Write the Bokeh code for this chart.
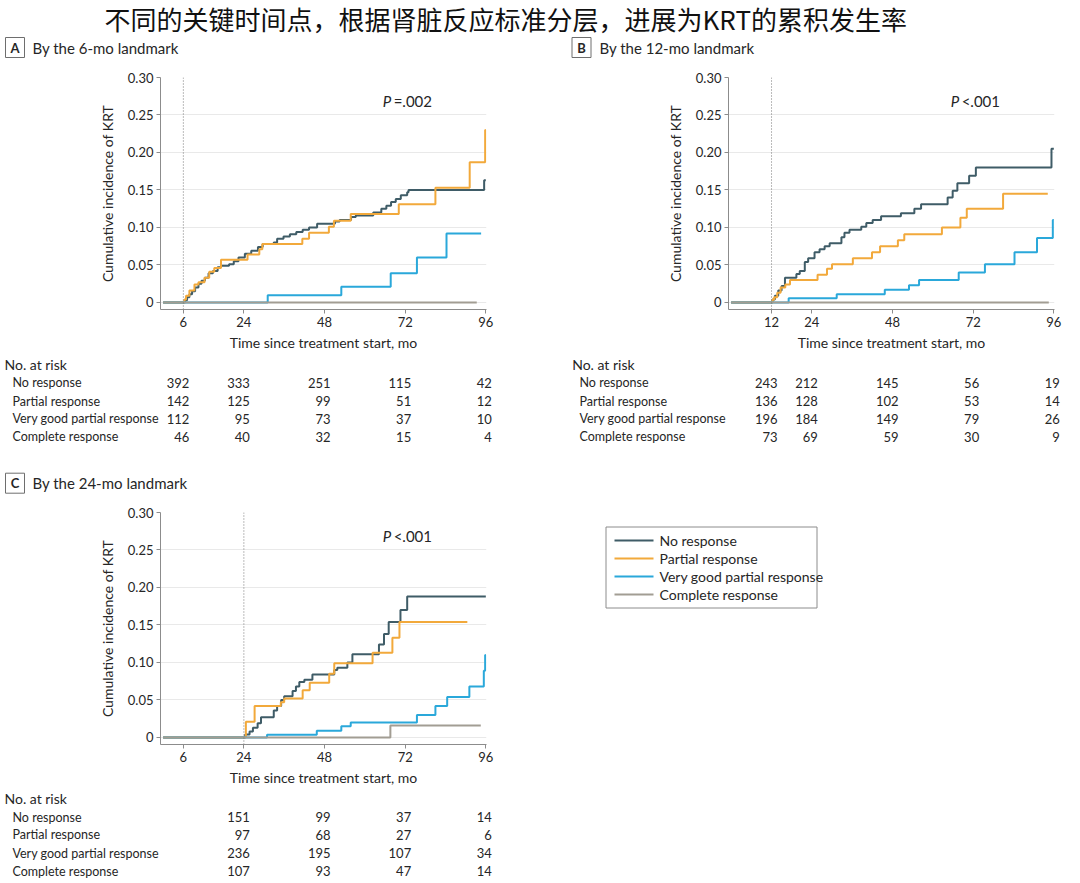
from bokeh.plotting import figure
from bokeh.layouts import column, row
from bokeh.models import Range1d, FixedTicker, NumeralTickFormatter, Span, Label
from bokeh.core.properties import value
from bokeh.embed import file_html
from bokeh.resources import INLINE

# ---------------- data ----------------
TITLE = "不同的关键时间点，根据肾脏反应标准分层，进展为KRT的累积发生率"
GROUPS = ["No response", "Partial response", "Very good partial response", "Complete response"]
COLORS = ["#3f5c67", "#f2a93b", "#2aa8da", "#a29d93"]

# Panel A (6-mo landmark)
A_no_t = [0, 6.5, 7.1, 7.8, 8.6, 9.5, 10.5, 11.4, 12.4, 13.5, 14.8, 16.2, 17.2, 19.6, 21.0, 22.4,
          24.3, 26.2, 28.2, 29.6, 32.9, 33.9, 35.8, 37.7, 39.6, 41.5, 43.4, 45.8, 51.1, 52.5, 55.9,
          57.3, 62.5, 64.9, 66.4, 67.8, 69.2, 70.7, 72.6, 73.0, 95.5, 96.0]
A_no_v = [0, 0.003, 0.007, 0.011, 0.015, 0.020, 0.025, 0.029, 0.033, 0.039, 0.042, 0.047, 0.049,
          0.051, 0.055, 0.060, 0.065, 0.069, 0.074, 0.078, 0.080, 0.085, 0.088, 0.091, 0.094, 0.097,
          0.100, 0.105, 0.108, 0.110, 0.114, 0.116, 0.120, 0.125, 0.129, 0.134, 0.138, 0.143, 0.147,
          0.150, 0.163, 0.163]
A_pr_t = [0, 6.3, 6.8, 7.8, 9.3, 10.5, 12.3, 13.7, 15.2, 17.2, 25.1, 28.6, 29.5, 41.4, 43.4, 49.3,
          50.8, 55.8, 70.1, 81.0, 91.2, 95.8, 96.0]
A_pr_v = [0, 0.004, 0.009, 0.016, 0.024, 0.027, 0.033, 0.041, 0.046, 0.057, 0.064, 0.071, 0.078,
          0.085, 0.093, 0.101, 0.109, 0.118, 0.131, 0.153, 0.187, 0.230, 0.230]
A_vg_t = [0, 31.1, 53.0, 67.7, 75.5, 84.3, 94.6]
A_vg_v = [0, 0.0095, 0.021, 0.039, 0.060, 0.092, 0.092]
A_cr_t = [0, 93.3]
A_cr_v = [0, 0]

# Panel B (12-mo landmark)
B_no_t = [0, 12.3, 13.0, 14.0, 15.0, 16.0, 19.4, 20.4, 21.9, 22.9, 24.8, 26.3, 27.8, 29.3, 32.8,
          33.7, 35.2, 38.7, 40.2, 42.1, 44.6, 50.5, 54.5, 56.5, 64.4, 65.9, 67.3, 70.8, 72.8, 95.3, 96.0]
B_no_v = [0, 0.004, 0.009, 0.016, 0.022, 0.033, 0.038, 0.042, 0.054, 0.059, 0.067, 0.071, 0.075,
          0.079, 0.087, 0.093, 0.097, 0.101, 0.106, 0.110, 0.115, 0.119, 0.125, 0.131, 0.140, 0.149,
          0.159, 0.169, 0.180, 0.205, 0.205]
B_pr_t = [0, 12.3, 12.8, 13.7, 14.7, 16.1, 17.5, 25.7, 28.5, 30.0, 36.2, 41.9, 44.3, 49.6, 51.5,
          62.7, 68.2, 70.1, 80.9, 94.2]
B_pr_v = [0, 0.004, 0.007, 0.013, 0.020, 0.024, 0.030, 0.037, 0.045, 0.051, 0.059, 0.067, 0.075,
          0.083, 0.091, 0.100, 0.113, 0.125, 0.145, 0.145]
B_vg_t = [0, 17.1, 31.4, 45.7, 52.9, 55.9, 67.7, 75.5, 84.3, 91.0, 95.7, 96.0]
B_vg_v = [0, 0.0055, 0.011, 0.017, 0.023, 0.030, 0.040, 0.051, 0.067, 0.086, 0.110, 0.110]
B_cr_t = [0, 94.5]
B_cr_v = [0, 0]

# Panel C (24-mo landmark)
C_no_t = [0, 24.4, 25.7, 26.7, 28.1, 29.1, 32.9, 33.9, 35.1, 36.0, 38.5, 39.5, 40.5, 42.0, 44.4,
          50.9, 51.8, 54.8, 56.3, 64.2, 65.7, 67.1, 70.6, 72.6, 96.0]
C_no_v = [0, 0.004, 0.008, 0.013, 0.019, 0.027, 0.036, 0.042, 0.050, 0.055, 0.062, 0.068, 0.074,
          0.077, 0.084, 0.090, 0.093, 0.100, 0.111, 0.124, 0.138, 0.154, 0.170, 0.188, 0.188]
C_pr_t = [0, 24.6, 27.2, 35.0, 36.0, 41.5, 43.6, 49.4, 50.9, 62.3, 68.2, 70.3, 90.5]
C_pr_v = [0, 0.021, 0.042, 0.047, 0.052, 0.063, 0.073, 0.085, 0.099, 0.113, 0.133, 0.154, 0.154]
C_vg_t = [0, 30.9, 45.7, 53.0, 55.8, 75.5, 81.0, 84.5, 91.1, 95.4, 95.8, 96.0]
C_vg_v = [0, 0.0036, 0.009, 0.015, 0.020, 0.030, 0.042, 0.054, 0.068, 0.089, 0.110, 0.110]
C_cr_t = [0, 67.6, 94.5]
C_cr_v = [0, 0.016, 0.016]

# x ticks / landmarks / P values
A_ticks = [6, 24, 48, 72, 96]
B_ticks = [12, 24, 48, 72, 96]
C_ticks = [6, 24, 48, 72, 96]
LANDMARKS = [6, 12, 24]
P_TEXTS = ["=.002", "<.001", "<.001"]
Y_TICKS = [0, 0.05, 0.10, 0.15, 0.20, 0.25, 0.30]

# numbers at risk
A_risk_times = [6, 24, 48, 72, 96]
A_risk_no = [392, 333, 251, 115, 42]
A_risk_pr = [142, 125, 99, 51, 12]
A_risk_vg = [112, 95, 73, 37, 10]
A_risk_cr = [46, 40, 32, 15, 4]
B_risk_times = [12, 24, 48, 72, 96]
B_risk_no = [243, 212, 145, 56, 19]
B_risk_pr = [136, 128, 102, 53, 14]
B_risk_vg = [196, 184, 149, 79, 26]
B_risk_cr = [73, 69, 59, 30, 9]
C_risk_times = [24, 48, 72, 96]
C_risk_no = [151, 99, 37, 14]
C_risk_pr = [97, 68, 27, 6]
C_risk_vg = [236, 195, 107, 34]
C_risk_cr = [107, 93, 47, 14]

# ---------------- style / layout ----------------
FONT = "Lato"
CJK_FONT = "Noto Sans CJK SC"
TEXT = "#262626"
AXIS = "#8c8c8c"
FS = "14px"
TAB_LABEL_FS = "12.5px"
TAB_FS = "13px"
TICK_FS = "13px"

W_L, W_R = 540, 538
TOP_H, PLOT_H, TAB1_H, TAB2_H = 62, 293, 142, 92
PB_TOP, PB_BOTTOM = 15, 46
A_BL, A_BR = 160, 54
B_BL, B_BR = 188, 24
X_RANGE = (-0.8, 96.2)
Y_RANGE = (-0.0095, 0.30)
P_X, P_Y = 65.3, 0.268


def blank(width, height, xr, yr, **kw):
    opts = dict(min_border=0)
    opts.update(kw)
    f = figure(width=width, height=height, x_range=xr, y_range=yr,
               toolbar_location=None, output_backend="svg", x_axis_location=None,
               y_axis_location=None, outline_line_color=None, **opts)
    f.grid.visible = False
    return f


def header(f, cx, y, letter, text, tx):
    f.rect(x=[cx], y=[y], width=19, height=20, width_units="screen", height_units="screen",
           fill_color=None, line_color="#6e6e6e", line_width=1)
    f.text(x=[cx], y=[y], text=[letter], text_align="center", text_baseline="middle",
           text_font=value(FONT), text_font_style="bold", text_font_size="13px", text_color=TEXT)
    f.text(x=[tx], y=[y], text=[text], text_baseline="middle",
           text_font=value(FONT), text_font_size="15px", text_color=TEXT)


def make_plot(width, bl, br, curves, landmark, ticks, p_text):
    p = figure(width=width, height=PLOT_H, x_range=Range1d(*X_RANGE), y_range=Range1d(*Y_RANGE),
               min_border_left=bl, min_border_right=br, min_border_top=PB_TOP,
               min_border_bottom=PB_BOTTOM, toolbar_location=None, output_backend="svg",
               outline_line_color=None)
    p.xgrid.grid_line_color = None
    p.ygrid.grid_line_color = "#e9e9e9"
    p.xaxis.ticker = FixedTicker(ticks=ticks)
    p.yaxis.ticker = FixedTicker(ticks=Y_TICKS)
    p.yaxis.formatter = NumeralTickFormatter(format="0.00")
    p.yaxis.major_label_overrides = {0: "0"}
    for ax in (p.xaxis[0], p.yaxis[0]):
        ax.axis_line_color = AXIS
        ax.major_tick_line_color = AXIS
        ax.major_tick_out = 4
        ax.major_tick_in = 0
        ax.minor_tick_line_color = None
        ax.major_label_text_font = FONT
        ax.major_label_text_font_size = TICK_FS
        ax.major_label_text_color = TEXT
        ax.axis_label_text_font = FONT
        ax.axis_label_text_font_size = FS
        ax.axis_label_text_font_style = "normal"
        ax.axis_label_text_color = TEXT
    p.xaxis.axis_label = "Time since treatment start, mo"
    p.yaxis.axis_label = "Cumulative incidence of KRT"
    p.xaxis.major_label_standoff = 3
    p.xaxis.axis_label_standoff = 4
    p.yaxis.major_label_standoff = 3
    p.yaxis.axis_label_standoff = 9
    p.add_layout(Span(location=landmark, dimension="height", line_color="#777777",
                      line_dash="1 2", line_width=1))
    for (t, v), c in zip(curves, COLORS):
        p.step(x=t, y=v, mode="after", line_color=c, line_width=2)
    p.add_layout(Label(x=P_X, y=P_Y, text="P", text_font=FONT, text_font_style="italic",
                       text_font_size="15px", text_color=TEXT, text_baseline="middle"))
    p.add_layout(Label(x=P_X, y=P_Y, x_offset=11, text=p_text, text_font=FONT,
                       text_font_size="15px", text_color=TEXT, text_baseline="middle"))
    return p


def make_table(width, bl, br, height):
    ppu = (width - bl - br) / (X_RANGE[1] - X_RANGE[0])
    xs = X_RANGE[0] - bl / ppu
    xe = X_RANGE[1] + br / ppu
    f = blank(width, height, Range1d(xs, xe), Range1d(0, height))
    return f, (lambda px: xs + px / ppu)


def add_risk(f, px, head_y, row_ys, head_px, label_px, times, risks):
    f.text(x=[px(head_px)], y=[head_y], text=["No. at risk"], text_baseline="middle",
           text_font=value(FONT), text_font_size=FS, text_color=TEXT)
    f.text(x=[px(label_px)] * len(GROUPS), y=row_ys, text=GROUPS, text_baseline="middle",
           text_font=value(FONT), text_font_size=TAB_LABEL_FS, text_color=TEXT)
    for yy, vals in zip(row_ys, risks):
        f.text(x=times, y=[yy] * len(times), text=[str(v) for v in vals], text_align="right",
               x_offset=6, text_baseline="middle", text_font=value(FONT), text_font_size=TAB_FS,
               text_color=TEXT)


# ---- title + A/B headers ----
top = blank(W_L + W_R, TOP_H, Range1d(0, W_L + W_R), Range1d(0, TOP_H))
top.text(x=[104], y=[TOP_H - 18], text=[TITLE], text_baseline="middle",
         text_font=value(CJK_FONT), text_font_size="26px", text_color="#111111")
header(top, 14.5, TOP_H - 47, "A", "By the 6-mo landmark", 32)
header(top, 581, TOP_H - 47, "B", "By the 12-mo landmark", 599)

# ---- plots ----
pA = make_plot(W_L, A_BL, A_BR, [(A_no_t, A_no_v), (A_pr_t, A_pr_v), (A_vg_t, A_vg_v), (A_cr_t, A_cr_v)],
               LANDMARKS[0], A_ticks, P_TEXTS[0])
pB = make_plot(W_R, B_BL, B_BR, [(B_no_t, B_no_v), (B_pr_t, B_pr_v), (B_vg_t, B_vg_v), (B_cr_t, B_cr_v)],
               LANDMARKS[1], B_ticks, P_TEXTS[1])
pC = make_plot(W_L, A_BL, A_BR, [(C_no_t, C_no_v), (C_pr_t, C_pr_v), (C_vg_t, C_vg_v), (C_cr_t, C_cr_v)],
               LANDMARKS[2], C_ticks, P_TEXTS[2])

# ---- risk tables ----
tA, pxA = make_table(W_L, A_BL, A_BR, TAB1_H)
add_risk(tA, pxA, 133, [114.7, 96.3, 78.7, 61], 4, 12, A_risk_times,
         [A_risk_no, A_risk_pr, A_risk_vg, A_risk_cr])
header(tA, pxA(14.5), 14.3, "C", "By the 24-mo landmark", pxA(32))

tB, pxB = make_table(W_R, B_BL, B_BR, TAB1_H)
add_risk(tB, pxB, 133, [114.7, 96.3, 78.7, 61], 31.7, 39, B_risk_times,
         [B_risk_no, B_risk_pr, B_risk_vg, B_risk_cr])

tC, pxC = make_table(W_L, A_BL, A_BR, TAB2_H)
add_risk(tC, pxC, 83.7, [65.3, 47.7, 29.3, 11.3], 4, 12, C_risk_times,
         [C_risk_no, C_risk_pr, C_risk_vg, C_risk_cr])

# ---- legend panel (key box); frame shares the row's vertical alignment with panel C ----
LG_FRAME_H = PLOT_H - PB_TOP - PB_BOTTOM
lg = blank(W_R, PLOT_H, Range1d(0, W_R), Range1d(0, LG_FRAME_H),
           min_border_top=PB_TOP, min_border_bottom=PB_BOTTOM)
lg.quad(left=[65.5], right=[276.5], top=[LG_FRAME_H - 14.5], bottom=[LG_FRAME_H - 95.5],
        fill_color="white", line_color="#8c8c8c", line_width=1)
key_y = [LG_FRAME_H - 28, LG_FRAME_H - 46, LG_FRAME_H - 64, LG_FRAME_H - 82]
lg.segment(x0=[74] * 4, x1=[113] * 4, y0=key_y, y1=key_y, line_color=COLORS, line_width=2)
lg.text(x=[119] * 4, y=key_y, text=GROUPS, text_baseline="middle", text_font=value(FONT),
        text_font_size=FS, text_color=TEXT)

layout = column(top, row(pA, pB), row(tA, tB), row(pC, lg), row(tC))
open("out.html", "w").write(file_html(layout, INLINE))
